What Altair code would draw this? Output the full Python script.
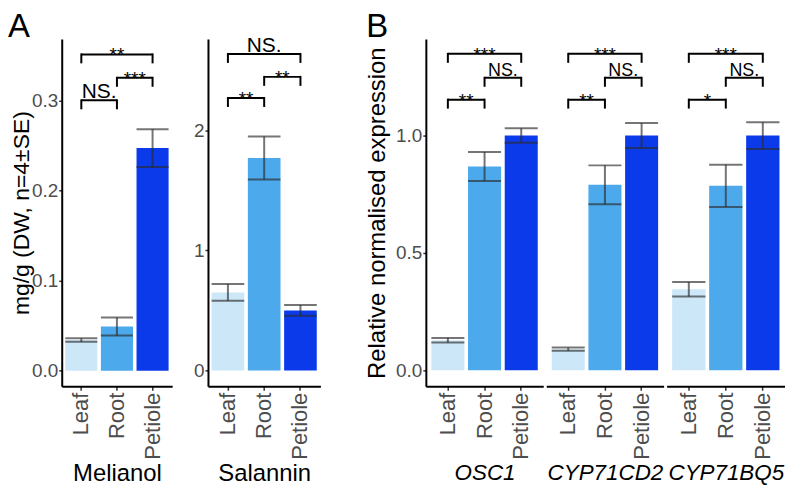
import altair as alt
import pandas as pd

tissues = ["Leaf", "Root", "Petiole"]
tissue_colors = ["#CCE7F8", "#4BA9EC", "#0B3AEB"]

# Panel A: metabolite content (mg/g DW, mean and SE)
melianol_mean = [0.034, 0.049, 0.247]
melianol_se = [0.002, 0.010, 0.021]
salannin_mean = [0.65, 1.77, 0.50]
salannin_se = [0.07, 0.18, 0.045]

# Panel B: relative normalised expression (mean and SE)
osc1_mean = [0.128, 0.868, 1.0]
osc1_se = [0.010, 0.062, 0.031]
cd2_mean = [0.090, 0.790, 1.0]
cd2_se = [0.007, 0.083, 0.053]
bq5_mean = [0.345, 0.786, 1.0]
bq5_se = [0.031, 0.090, 0.057]

# significance brackets: (from, to, level, label)
melianol_sig = [("Leaf", "Root", 0.300, "NS."), ("Root", "Petiole", 0.325, "***"), ("Leaf", "Petiole", 0.351, "**")]
salannin_sig = [("Leaf", "Root", 2.27, "**"), ("Root", "Petiole", 2.446, "**"), ("Leaf", "Petiole", 2.637, "NS.")]
osc1_sig = [("Leaf", "Root", 1.153, "**"), ("Root", "Petiole", 1.246, "NS."), ("Leaf", "Petiole", 1.348, "***")]
cd2_sig = [("Leaf", "Root", 1.153, "**"), ("Root", "Petiole", 1.246, "NS."), ("Leaf", "Petiole", 1.348, "***")]
bq5_sig = [("Leaf", "Root", 1.153, "*"), ("Root", "Petiole", 1.246, "NS."), ("Leaf", "Petiole", 1.348, "***")]

HEIGHT = 349
GREY = "#4D4D4D"
ERR = "#2b2b2b"


def panel(name, means, ses, sig, domain, ticks, fmt, width, pad_outer,
          y_title=None, show_y=True, italic=False, ns_size=21, title_pad=0,
          title_size=24, strip_size=24, letter=None, letter_dx=-54):
    df = pd.DataFrame({"tissue": tissues, "mean": means, "se": ses})
    df["lo"] = df["mean"] - df["se"]
    df["hi"] = df["mean"] + df["se"]
    df["zero"] = 0.0

    step = width / (3 - 0.1 + 2 * pad_outer)
    bw = step * 0.9
    leg = 8 * (domain[1] - domain[0]) / HEIGHT

    xscale = alt.Scale(domain=tissues, paddingInner=0.1, paddingOuter=pad_outer)
    xaxis = alt.Axis(title=name, labelAngle=-90, labelFontSize=22, labelColor=GREY,
                     labelPadding=2, tickSize=4, tickColor="#333333", tickWidth=1.5,
                     domainColor="black", domainWidth=2, titleFontSize=strip_size,
                     titleFontWeight="normal", titleColor="black", titlePadding=2,
                     titleFontStyle="italic" if italic else "normal", grid=False)
    yscale = alt.Scale(domain=domain, nice=False, zero=False)
    if show_y:
        yaxis = alt.Axis(values=ticks, format=fmt, labelFontSize=19, labelColor=GREY,
                         labelPadding=1, tickSize=3, tickColor="#333333", tickWidth=1.5,
                         domainColor="black", domainWidth=2, grid=False,
                         title=y_title, titleFontSize=title_size, titleFontWeight="normal",
                         titleColor="black", titlePadding=title_pad)
    else:
        yaxis = None

    X = alt.X("tissue:N", scale=xscale, axis=xaxis, sort=tissues)
    base = alt.Chart(df)
    bars = base.mark_bar().encode(
        x=X,
        y=alt.Y("mean:Q", scale=yscale, axis=yaxis),
        y2="zero:Q",
        color=alt.Color("tissue:N", scale=alt.Scale(domain=tissues, range=tissue_colors), legend=None),
    )
    err = base.mark_rule(color=ERR, opacity=0.65, strokeWidth=2).encode(
        x=X, y=alt.Y("lo:Q", scale=yscale), y2="hi:Q")
    cap_hi = base.mark_tick(color=ERR, opacity=0.65, thickness=2, size=bw).encode(
        x=X, y=alt.Y("hi:Q", scale=yscale))
    cap_lo = base.mark_tick(color=ERR, opacity=0.65, thickness=2, size=bw).encode(
        x=X, y=alt.Y("lo:Q", scale=yscale))

    sdf = pd.DataFrame(sig, columns=["from", "to", "level", "label"])
    sdf["low"] = sdf["level"] - leg
    sdf["span"] = sdf.apply(lambda r: abs(tissues.index(r["to"]) - tissues.index(r["from"])), axis=1)
    sdf["mid"] = sdf.apply(lambda r: tissues[tissues.index(r["from"]) + (1 if r["span"] == 2 else 0)], axis=1)
    sdf["kind"] = sdf["label"].apply(lambda s: "ns" if s.startswith("NS") else "star")

    legs = pd.concat([
        sdf[["from", "level", "low"]].rename(columns={"from": "cat"}),
        sdf[["to", "level", "low"]].rename(columns={"to": "cat"}),
    ])
    sbase = alt.Chart(sdf)
    hline = sbase.mark_rule(color="black", strokeWidth=2).encode(
        x=alt.X("from:N", scale=xscale), x2="to:N", y=alt.Y("level:Q", scale=yscale))
    vlegs = alt.Chart(legs).mark_rule(color="black", strokeWidth=2, strokeCap="square").encode(
        x=alt.X("cat:N", scale=xscale), y=alt.Y("level:Q", scale=yscale), y2="low:Q")

    layers = [bars, err, cap_hi, cap_lo, hline, vlegs]
    half_gap = 0.05 * step
    for kind, size, dy in (("star", 19, 7), ("ns", ns_size, -2)):
        for span, bp, dx in ((2, 0.5, 0), (1, 1.0, half_gap)):
            layers.append(
                sbase.transform_filter(
                    (alt.datum.kind == kind) & (alt.datum.span == span)
                ).mark_text(fontSize=size, baseline="alphabetic", align="center", dy=dy, dx=dx,
                            color="black").encode(
                    x=alt.X("mid:N", scale=xscale, bandPosition=bp),
                    y=alt.Y("level:Q", scale=yscale),
                    text="label:N",
                )
            )
    if letter:
        layers.append(
            alt.Chart(pd.DataFrame({"t": [letter]})).mark_text(
                fontSize=33, align="left", baseline="alphabetic", color="black"
            ).encode(text="t:N", x=alt.value(letter_dx), y=alt.value(-2))
        )
    return alt.layer(*layers).properties(width=width, height=HEIGHT)


mel = panel("Melianol", melianol_mean, melianol_se, melianol_sig, [-0.0173, 0.368],
            [0.0, 0.1, 0.2, 0.3], ".1f", 111, 0.1, y_title="mg/g (DW, n=4±SE)",
            letter="A", letter_dx=-54, title_pad=-2, title_size=23)
sal = panel("Salannin", salannin_mean, salannin_se, salannin_sig, [-0.132, 2.761],
            [0, 1, 2], "d", 113, 0.1)
osc = panel("OSC1", osc1_mean, osc1_se, osc1_sig, [-0.068, 1.411], [0.0, 0.5, 1.0], ".1f",
            118, 0.15, y_title="Relative normalised expression", italic=True, ns_size=18,
            strip_size=22.5, letter="B", letter_dx=-60, title_pad=6)
cd2 = panel("CYP71CD2", cd2_mean, cd2_se, cd2_sig, [-0.068, 1.411], [0.0, 0.5, 1.0], ".1f",
            118, 0.15, show_y=False, italic=True, ns_size=18, strip_size=22.5)
bq5 = panel("CYP71BQ5", bq5_mean, bq5_se, bq5_sig, [-0.068, 1.411], [0.0, 0.5, 1.0], ".1f",
            119, 0.15, show_y=False, italic=True, ns_size=18, strip_size=22.5)

partA = alt.hconcat(mel, sal, spacing=21)
partB = alt.hconcat(osc, cd2, bq5, spacing=3)
chart = (
    alt.hconcat(partA, partB, spacing=45)
    .properties(padding={"left": 0, "top": 2, "right": 0, "bottom": 0})
    .configure(font="Liberation Sans")
    .configure_view(stroke=None)
)
chart.save("out.html", embed_options={"renderer": "svg", "actions": False})
